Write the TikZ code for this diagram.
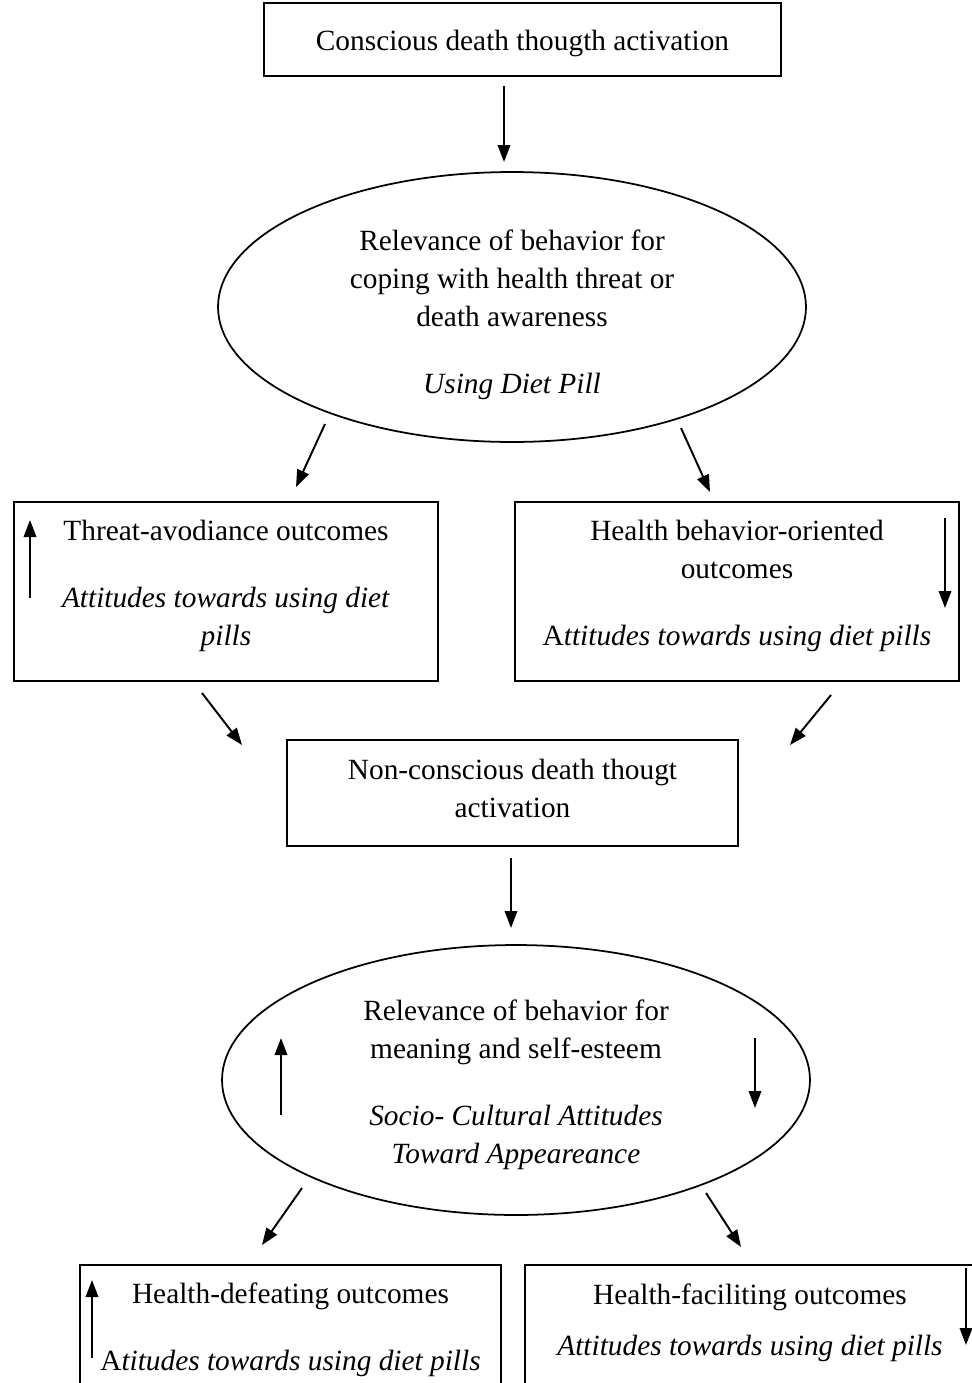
\documentclass[tikz,border=0pt]{standalone}
\usepackage{fontspec}
\setmainfont{Liberation Serif}
\usetikzlibrary{shapes.geometric,arrows.meta}

\tikzset{
  box/.style={draw,rectangle,line width=1pt,inner sep=0pt},
  oval/.style={draw,ellipse,line width=1pt,inner sep=0pt},
  txt/.style={align=center,inner sep=0pt},
  flow/.style={-{Triangle[length=3.4mm,width=2.5mm]},line width=1.1pt}
}

\begin{document}
\begin{tikzpicture}[x=0.02cm,y=-0.02cm,font=\fontsize{16.7}{21.6}\selectfont]
    \useasboundingbox (0,0) rectangle (972,1383);
    %states
    \node[box,minimum width=10.34cm,minimum height=1.46cm] (top) at (522.5,39.5) {};
    \node[oval,minimum width=11.76cm,minimum height=5.4cm] (cope) at (512,307) {};
    \node[box,minimum width=8.48cm,minimum height=3.58cm] (threat) at (226,591.5) {};
    \node[box,minimum width=8.88cm,minimum height=3.58cm] (health) at (737,591.5) {};
    \node[box,minimum width=9.02cm,minimum height=2.12cm] (nonc) at (512.5,793) {};
    \node[oval,minimum width=11.76cm,minimum height=5.4cm] (esteem) at (516,1080) {};
    \node[box,minimum width=8.42cm,minimum height=2.7cm] (defeat) at (290.5,1332.5) {};
    \node[box,minimum width=9.5cm,minimum height=2.7cm] (facil) at (762.5,1332.5) {};
    %texts
    \node[txt] (toptext) at (522.5,43.5) {Conscious death thougth activation};
    \node[txt] (copetext) at (512,315)
      {Relevance of behavior for\\coping with health threat or\\death awareness\\[16.5pt]\textit{Using Diet Pill}};
    \node[txt] (threattext) at (226,585.5)
      {Threat-avodiance outcomes\\[16.5pt]\textit{Attitudes towards using diet}\\\textit{pills}};
    \node[txt] (healthtext) at (737,586)
      {Health behavior-oriented\\outcomes\\[16.5pt]A\textit{ttitudes towards using diet pills}};
    \node[txt] (nonctext) at (512.5,788) {Non-conscious death thougt\\activation};
    \node[txt] (esteemtext) at (516,1085)
      {Relevance of behavior for\\meaning and self-esteem\\[16.5pt]\textit{Socio- Cultural Attitudes}\\\textit{Toward Appeareance}};
    \node[txt] (defeattext) at (290.5,1330)
      {Health-defeating outcomes\\[16.5pt]A\textit{titudes towards using diet pills}};
    \node[txt] (faciltext) at (750,1323)
      {Health-faciliting outcomes\\[7.4pt]\textit{Attitudes towards using diet pills}};
    %arrow ends
    \coordinate (t1) at (504,86);    \coordinate (t2) at (504,162);
    \coordinate (c1) at (325,424);   \coordinate (c2) at (296,487);
    \coordinate (c3) at (681,428);   \coordinate (c4) at (710,492);
    \coordinate (n1) at (202,693);   \coordinate (n2) at (242,745);
    \coordinate (n3) at (831,695);   \coordinate (n4) at (790,745);
    \coordinate (m1) at (511,858);   \coordinate (m2) at (511,928);
    \coordinate (e1) at (302,1188);  \coordinate (e2) at (262,1245);
    \coordinate (e3) at (706,1193);  \coordinate (e4) at (741,1247);
    %edges
    \path[flow]
     (t1) edge (t2)
     (c1) edge (c2)
     (c3) edge (c4)
     (n1) edge (n2)
     (n3) edge (n4)
     (m1) edge (m2)
     (e1) edge (e2)
     (e3) edge (e4);
    %up and down marks
    \draw[flow] (30,598) -- (30,520);
    \draw[flow] (945,518) -- (945,608);
    \draw[flow] (281,1115) -- (281,1038);
    \draw[flow] (755,1038) -- (755,1108);
    \draw[flow] (92,1358) -- (92,1280);
    \draw[flow] (966,1268) -- (966,1345);
\end{tikzpicture}
\end{document}
